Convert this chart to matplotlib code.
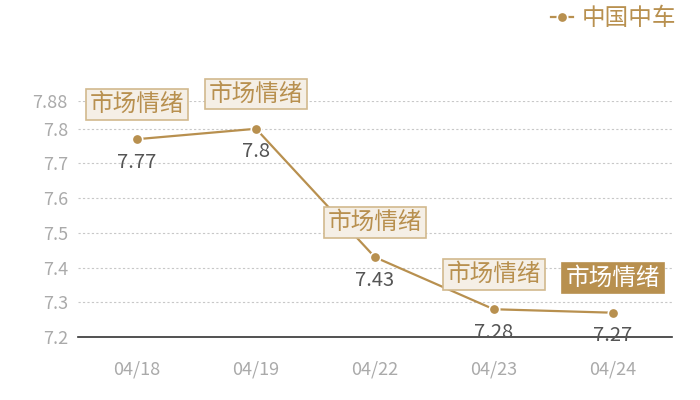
import matplotlib
matplotlib.use('Agg')
import matplotlib.pyplot as plt

plt.rcParams['font.family'] = ['Noto Sans CJK SC', 'DejaVu Sans']

# data
dates = ['04/18', '04/19', '04/22', '04/23', '04/24']
values = [7.77, 7.8, 7.43, 7.28, 7.27]
yticks = [7.2, 7.3, 7.4, 7.5, 7.6, 7.7, 7.8, 7.88]
ytick_labels = ['7.2', '7.3', '7.4', '7.5', '7.6', '7.7', '7.8', '7.88']
series_name = '中国中车'
note = '市场情绪'

gold = '#b8904f'

fig = plt.figure(figsize=(7, 4), dpi=100)
ax = fig.add_axes([0.111, 0.1575, 0.849, 0.59])

x = list(range(len(dates)))
ax.plot(x, values, color=gold, lw=1.6, marker='o', ms=7.5,
        markerfacecolor=gold, markeredgecolor='white', markeredgewidth=1.2,
        label=series_name, zorder=3)

ax.set_xlim(-0.5, len(dates) - 0.5)
ax.set_ylim(7.2, 7.88)
ax.set_yticks(yticks)
ax.set_yticklabels(ytick_labels)
ax.set_xticks(x)
ax.set_xticklabels(dates)
ax.tick_params(axis='both', length=0, labelcolor='#aaaaaa', labelsize=13)
ax.tick_params(axis='x', pad=17)
ax.tick_params(axis='y', pad=7)

for y in yticks[1:]:
    ax.axhline(y, color='#c8c8c8', lw=0.8, ls=(0, (2, 2)), zorder=1)

for s in ['top', 'right', 'left']:
    ax.spines[s].set_visible(False)
ax.spines['bottom'].set_color('#333333')
ax.spines['bottom'].set_linewidth(1.2)

# value labels
for xi, v in zip(x, values):
    ax.annotate(f'{v:g}', (xi, v), xytext=(0, -9), textcoords='offset points',
                ha='center', va='top', fontsize=14.5, color='#555555', zorder=4)

# note boxes
for i, (xi, v) in enumerate(zip(x, values)):
    last = i == len(values) - 1
    ax.annotate(note, (xi, v), xytext=(0, 25), textcoords='offset points',
                ha='center', va='center', fontsize=17,
                color='white' if last else gold,
                bbox=dict(boxstyle='square,pad=0.16',
                          fc=gold if last else '#f5efe6',
                          ec=gold if last else '#d2b98e', lw=1.2),
                zorder=5, annotation_clip=False)

leg = fig.legend(loc='upper right', bbox_to_anchor=(0.997, 1.035), frameon=False,
                 fontsize=17, handlelength=0.9, handletextpad=0.4, labelcolor=gold)

fig.savefig('out.png', dpi=100)
